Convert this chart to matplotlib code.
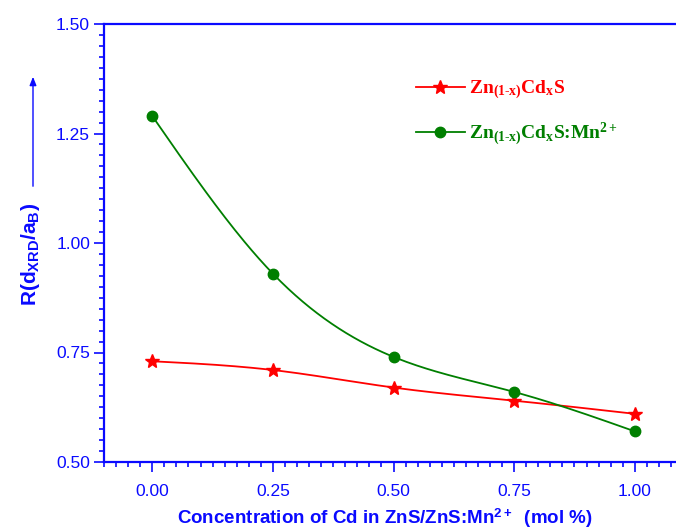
import numpy as np
import matplotlib
matplotlib.use("Agg")
import matplotlib.pyplot as plt
from matplotlib.ticker import MultipleLocator, FormatStrFormatter
from matplotlib.lines import Line2D

# data
conc = [0.00, 0.25, 0.50, 0.75, 1.00]
r_zncds = [0.73, 0.71, 0.67, 0.64, 0.61]
r_zncds_mn = [1.29, 0.93, 0.74, 0.66, 0.57]

BLUE = "#0a0aff"
RED = "#ff0000"
GREEN = "#007f00"

plt.rcParams["font.family"] = ["Liberation Sans", "DejaVu Sans"]
plt.rcParams["mathtext.fontset"] = "custom"
plt.rcParams["mathtext.bf"] = "Liberation Sans:bold"
plt.rcParams["mathtext.rm"] = "Liberation Serif:bold"
plt.rcParams["mathtext.it"] = "Liberation Serif:bold"


def natural_spline(x, y, n=200):
    # plain natural cubic spline, like Origin's smooth connect
    x = np.asarray(x, float)
    y = np.asarray(y, float)
    k = len(x)
    h = np.diff(x)
    A = np.zeros((k, k))
    b = np.zeros(k)
    A[0, 0] = 1
    A[-1, -1] = 1
    for i in range(1, k - 1):
        A[i, i - 1] = h[i - 1]
        A[i, i] = 2 * (h[i - 1] + h[i])
        A[i, i + 1] = h[i]
        b[i] = 6 * ((y[i + 1] - y[i]) / h[i] - (y[i] - y[i - 1]) / h[i - 1])
    m = np.linalg.solve(A, b)
    xs = np.linspace(x[0], x[-1], n)
    ys = np.empty_like(xs)
    for j, t in enumerate(xs):
        i = min(np.searchsorted(x, t, side="right") - 1, k - 2)
        a = (x[i + 1] - t) / h[i]
        c = (t - x[i]) / h[i]
        ys[j] = (a * y[i] + c * y[i + 1]
                 + ((a ** 3 - a) * m[i] + (c ** 3 - c) * m[i + 1]) * h[i] ** 2 / 6)
    return xs, ys


fig = plt.figure(figsize=(6.76, 5.32), dpi=100)
ax = fig.add_axes([104 / 676, 70 / 532, 579 / 676, 438 / 532])

xs, ys = natural_spline(conc, r_zncds)
ax.plot(xs, ys, color=RED, lw=1.3)
ax.plot(conc, r_zncds, ls="none", marker="*", ms=10, color=RED)

xs, ys = natural_spline(conc, r_zncds_mn)
ax.plot(xs, ys, color=GREEN, lw=1.3)
ax.plot(conc, r_zncds_mn, ls="none", marker="o", ms=7.5, color=GREEN)

ax.set_xlim(-0.1, 1.1)
ax.set_ylim(0.5, 1.5)
ax.xaxis.set_major_locator(MultipleLocator(0.25))
ax.xaxis.set_minor_locator(MultipleLocator(0.025))
ax.yaxis.set_major_locator(MultipleLocator(0.25))
ax.yaxis.set_minor_locator(MultipleLocator(0.025))
ax.xaxis.set_major_formatter(FormatStrFormatter("%.2f"))
ax.yaxis.set_major_formatter(FormatStrFormatter("%.2f"))
ax.set_xticks([0, 0.25, 0.5, 0.75, 1.0])

for s in ax.spines.values():
    s.set_color(BLUE)
    s.set_linewidth(1.6)
ax.spines["right"].set_visible(False)

ax.tick_params(which="major", direction="out", length=7, width=1.2, color=BLUE,
               labelcolor=BLUE, labelsize=12.5)
ax.tick_params(which="minor", direction="out", length=3.5, width=1.2, color=BLUE)
ax.tick_params(axis="x", which="major", pad=9)
ax.tick_params(axis="y", which="major", pad=3)
ax.tick_params(top=False, right=False, which="both")

# legend
handles = [
    Line2D([], [], color=RED, lw=1.3, marker="*", ms=10),
    Line2D([], [], color=GREEN, lw=1.3, marker="o", ms=7.5),
]
labels = [
    r"$\mathrm{Zn_{(1\text{-}x)}Cd_{x}S}$",
    r"$\mathrm{Zn_{(1\text{-}x)}Cd_{x}S}$:Mn$^{\mathrm{2+}}$",
]
leg = fig.legend(handles, labels, loc="center left",
                 bbox_to_anchor=(416 / 676, 1 - 113 / 532),
                 frameon=False, borderpad=0, borderaxespad=0,
                 handlelength=2.5, handletextpad=0.25,
                 labelspacing=1.0, labelcolor="linecolor",
                 prop={"family": "Liberation Serif", "weight": "bold", "size": 14})

# axis titles
fig.text(385 / 676, 1 - 518 / 532,
         r"Concentration of Cd in ZnS/ZnS:Mn$^{\mathbf{2+}}$  (mol %)",
         color=BLUE, fontsize=13.5, fontweight="bold", ha="center", va="center")
fig.text(30 / 676, 1 - 254 / 532, r"$\mathbf{R(d_{XRD}/a_{B})}$",
         color=BLUE, fontsize=15, rotation=90, ha="center", va="center")
fig.add_artist(matplotlib.patches.FancyArrowPatch(
    (33 / 676, 1 - 189 / 532), (33 / 676, 1 - 74 / 532),
    transform=fig.transFigure, arrowstyle="-|>,head_length=5,head_width=2",
    color=BLUE, lw=1.0, mutation_scale=1))

fig.savefig("out.png", dpi=100)
